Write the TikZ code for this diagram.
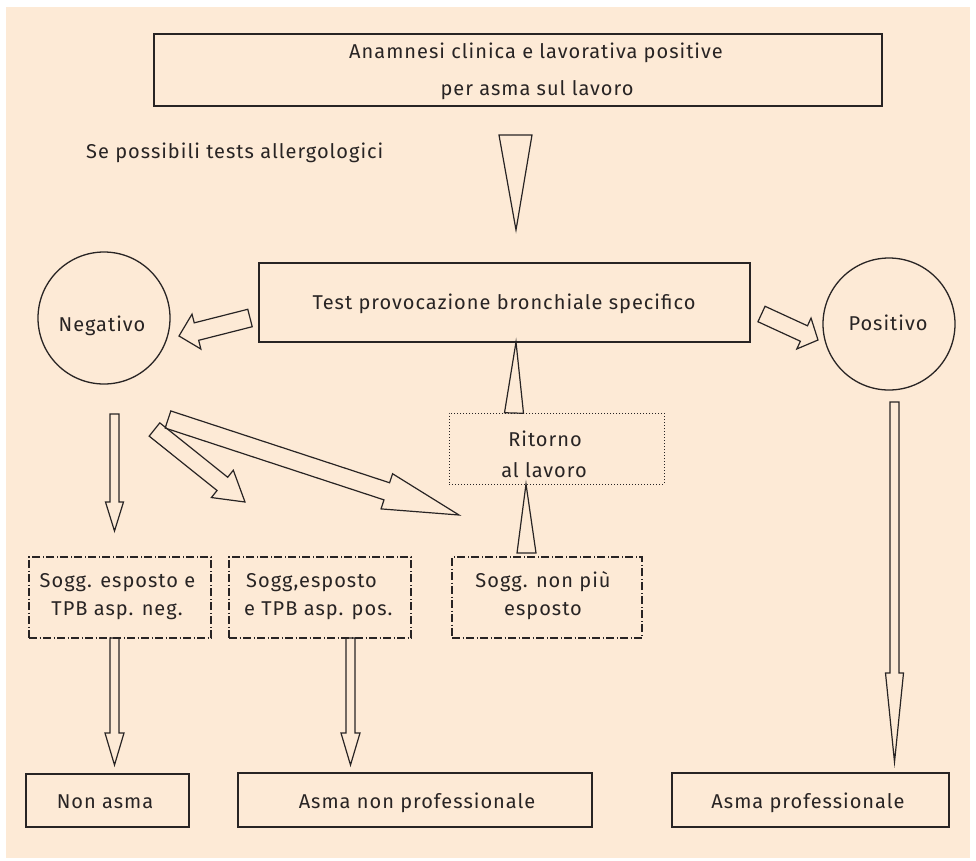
\documentclass[tikz,border=0pt]{standalone}
\usepackage{fontspec}
\setmainfont{Fira Sans}[LetterSpace=5]
\usetikzlibrary{calc}
\definecolor{bg}{RGB}{253,234,214}
\definecolor{ink}{RGB}{40,36,36}
\newcommand\blockarr[5]{%
  \path ($(#2)!#5!(#1)$) coordinate (bah);
  \draw[arrline] ($(#1)!#3!90:(#2)$) -- ($(bah)!#3!90:(#2)$) -- ($(bah)!#4!90:(#2)$) -- (#2)
    -- ($(bah)!#4!-90:(#2)$) -- ($(bah)!#3!-90:(#2)$) -- ($(#1)!#3!-90:(#2)$) -- cycle;}
\newcommand\triarr[3]{%
  \draw[arrline] ($(#1)!#3!90:(#2)$) -- (#2) -- ($(#1)!#3!-90:(#2)$) -- cycle;}
\begin{document}
\begin{tikzpicture}[x=1pt,y=-1pt,
  every node/.style={text=ink, font=\fontsize{20}{24}\selectfont},
  txt/.style={inner sep=0pt, text height=14pt, text depth=0pt},
  box/.style={draw=ink, line width=1.4pt, inner sep=0pt},
  dashbox/.style={draw=ink, line width=1.1pt, inner sep=0pt, dash pattern=on 8pt off 2.5pt on 1pt off 2.5pt},
  dotbox/.style={draw=ink, line width=1pt, inner sep=0pt, dash pattern=on 1pt off 2pt},
  circ/.style={draw=ink, line width=1.3pt, circle, minimum size=132pt, inner sep=0pt},
  arrline/.style={draw=ink, line width=1.2pt, line join=miter}]
\useasboundingbox (0,0) rectangle (976,860);
\fill[bg] (6,7) rectangle (970,858);
% boxes
\node[box, minimum width=728pt, minimum height=72pt] (top) at (518,70) {};
\node[txt] (topa) at (536,51) {Anamnesi clinica e lavorativa positive};
\node[txt] (topb) at (537,88) {per asma sul lavoro};
\node[txt, anchor=west] (se) at (86,151) {Se possibili tests allergologici};
\node[box, minimum width=491pt, minimum height=79pt] (test) at (504.5,302.5) {};
\node[txt] (testt) at (504,302) {Test provocazione bronchiale specifico};
\node[circ] (neg) at (104,318) {};
\node[txt] (negt) at (102,324) {Negativo};
\node[circ] (pos) at (889,324) {};
\node[txt] (post) at (888,323) {Positivo};
\node[dotbox, minimum width=215pt, minimum height=71pt] (rit) at (556.5,448.5) {};
\node[txt] (rita) at (545,439) {Ritorno};
\node[txt] (ritb) at (544,470) {al lavoro};
\node[dashbox, minimum width=182pt, minimum height=81pt] (s1) at (120,597.5) {};
\node[txt] (s1a) at (117.5,580) {Sogg. esposto e};
\node[txt] (s1b) at (117,608) {TPB asp. neg.};
\node[dashbox, minimum width=182pt, minimum height=81pt] (s2) at (320,597.5) {};
\node[txt, anchor=west] (s2a) at (246,580) {Sogg,esposto};
\node[txt, anchor=west] (s2b) at (244,608) {e TPB asp. pos.};
\node[dashbox, minimum width=190pt, minimum height=81pt] (s3) at (547,597.5) {};
\node[txt] (s3a) at (543,580) {Sogg. non più};
\node[txt] (s3b) at (543,608) {esposto};
\node[box, minimum width=163pt, minimum height=53pt] (nonasma) at (107.5,800.5) {};
\node[txt] (nonasmat) at (105,801) {Non asma};
\node[box, minimum width=354pt, minimum height=54pt] (asmanp) at (415,800) {};
\node[txt] (asmanpt) at (417,801) {Asma non professionale};
\node[box, minimum width=277pt, minimum height=54pt] (asmap) at (810.5,800) {};
\node[txt] (asmapt) at (808,801) {Asma professionale};
% arrow end points
\coordinate (t1b) at (515.5,135); \coordinate (t1t) at (516,230);
\coordinate (aLt) at (250,318); \coordinate (aLh) at (179,336);
\coordinate (aRt) at (761.5,314); \coordinate (aRh) at (818,340);
\coordinate (nDt) at (114.5,414); \coordinate (nDh) at (114.5,531);
\coordinate (d1t) at (154.5,429.5); \coordinate (d1h) at (245,502);
\coordinate (d2t) at (168,419.5); \coordinate (d2h) at (459,515);
\coordinate (r1b) at (514,413); \coordinate (r1t) at (516,342);
\coordinate (r2b) at (526.5,553); \coordinate (r2t) at (526,484);
\coordinate (b1t) at (114.5,638); \coordinate (b1h) at (114.5,765);
\coordinate (b2t) at (350.5,638); \coordinate (b2h) at (350.5,765);
\coordinate (pDt) at (894.5,402); \coordinate (pDh) at (894.5,762);
% arrows
\triarr{t1b}{t1t}{16.5pt}
\blockarr{aLt}{aLh}{9pt}{18pt}{18pt}
\blockarr{aRt}{aRh}{8.5pt}{17pt}{15.5pt}
\blockarr{nDt}{nDh}{4.5pt}{9pt}{29pt}
\blockarr{d2t}{d2h}{9pt}{18.5pt}{76pt}
\blockarr{d1t}{d1h}{8.5pt}{17.5pt}{29pt}
\triarr{r1b}{r1t}{9.5pt}
\triarr{r2b}{r2t}{9.5pt}
\blockarr{b1t}{b1h}{4.5pt}{9.5pt}{32pt}
\blockarr{b2t}{b2h}{4.5pt}{9.5pt}{32pt}
\blockarr{pDt}{pDh}{4.5pt}{9pt}{89pt}
\end{tikzpicture}
\end{document}
